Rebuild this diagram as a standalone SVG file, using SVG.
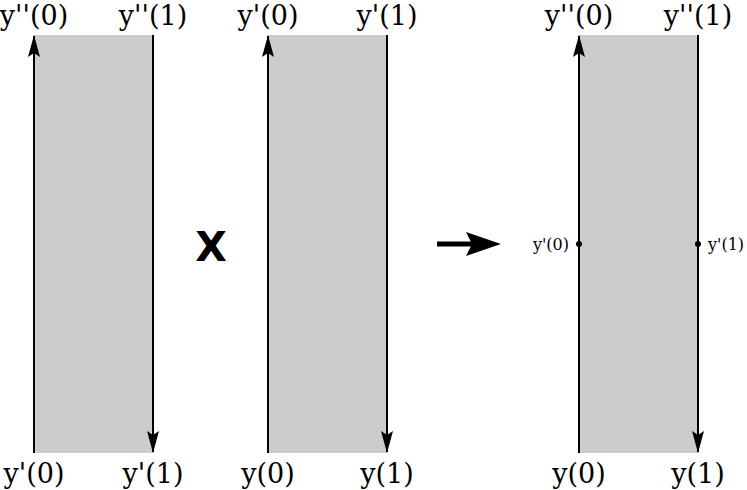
<svg xmlns="http://www.w3.org/2000/svg" width="747" height="490" viewBox="0 0 747 490">
<style>
.band{fill:#cccccc;stroke:none}
.edge{stroke:#000;stroke-width:2;fill:none}
.lbl{font-family:"DejaVu Serif",serif;font-size:27px;fill:#000;text-anchor:middle}
.sm{font-family:"DejaVu Serif",serif;font-size:16px;fill:#000}
</style>
<defs>
<marker id="ah" viewBox="0 0 22 12" refX="21" refY="6" markerWidth="22" markerHeight="12" markerUnits="userSpaceOnUse" orient="auto">
<path d="M0,0 L22,6 L0,12 L4,6 Z" fill="#000"/>
</marker>
</defs>
<rect width="747" height="490" fill="#fff"/>
<g id="strip1">
<rect class="band" x="34" y="35" width="119" height="418"/>
<text class="lbl" x="34" y="25">y''(0)</text>
<text class="lbl" x="153" y="25">y''(1)</text>
<text class="lbl" x="34" y="483">y'(0)</text>
<text class="lbl" x="153" y="483">y'(1)</text>
</g>
<g id="times">
<text x="211" y="261" font-family="DejaVu Sans,sans-serif" font-weight="bold" font-size="41" text-anchor="middle">X</text>
</g>
<g id="strip2">
<rect class="band" x="268" y="35" width="119" height="418"/>
<text class="lbl" x="268" y="25">y'(0)</text>
<text class="lbl" x="387" y="25">y'(1)</text>
<text class="lbl" x="268" y="483">y(0)</text>
<text class="lbl" x="387" y="483">y(1)</text>
</g>
<g id="strip3">
<rect class="band" x="579" y="35" width="119" height="418"/>
<text class="lbl" x="579" y="25">y''(0)</text>
<text class="lbl" x="698" y="25">y''(1)</text>
<text class="lbl" x="579" y="483">y(0)</text>
<text class="lbl" x="698" y="483">y(1)</text>
<circle cx="579" cy="244" r="3" fill="#000"/>
<circle cx="698" cy="244" r="3" fill="#000"/>
<text class="sm" x="569" y="250" text-anchor="end">y'(0)</text>
<text class="sm" x="708" y="250">y'(1)</text>
</g>
<g id="connectors">
<line class="edge" x1="34" y1="453" x2="34" y2="36" marker-end="url(#ah)"/>
<line class="edge" x1="153" y1="35" x2="153" y2="452" marker-end="url(#ah)"/>
<line class="edge" x1="268" y1="453" x2="268" y2="36" marker-end="url(#ah)"/>
<line class="edge" x1="387" y1="35" x2="387" y2="452" marker-end="url(#ah)"/>
<line class="edge" x1="579" y1="453" x2="579" y2="36" marker-end="url(#ah)"/>
<line class="edge" x1="698" y1="35" x2="698" y2="452" marker-end="url(#ah)"/>
<line x1="437" y1="244" x2="474" y2="244" stroke="#000" stroke-width="5"/>
<path d="M466,232 L501,244 L466,256 L472,244 Z" fill="#000"/>
</g>
</svg>
